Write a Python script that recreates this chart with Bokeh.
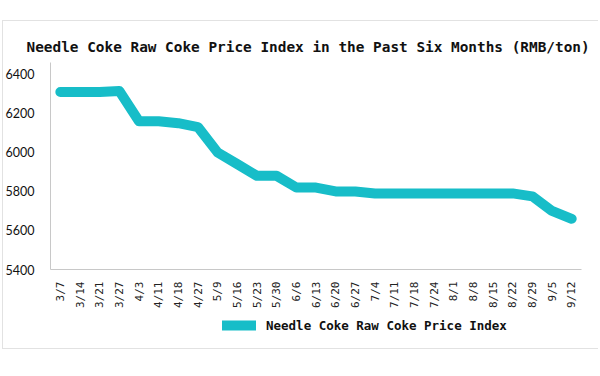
import math
from bokeh.plotting import figure
from bokeh.layouts import column
from bokeh.models import FixedTicker, Legend, LegendItem, Range1d
from bokeh.embed import file_html
from bokeh.resources import INLINE

dates = ["3/7", "3/14", "3/21", "3/27", "4/3", "4/11", "4/18", "4/27", "5/9",
         "5/16", "5/23", "5/30", "6/6", "6/13", "6/20", "6/27", "7/4", "7/11",
         "7/18", "7/24", "8/1", "8/8", "8/15", "8/22", "8/29", "9/5", "9/12"]
prices = [6310, 6310, 6310, 6315, 6160, 6160, 6150, 6130, 6000,
          5940, 5880, 5880, 5820, 5820, 5800, 5800, 5790, 5790,
          5790, 5790, 5790, 5790, 5790, 5790, 5775, 5700, 5660]
y_ticks = [5400, 5600, 5800, 6000, 6200, 6400]
series_name = "Needle Coke Raw Coke Price Index"
title_text = "Needle Coke Raw Coke Price Index in the Past Six Months (RMB/ton)"

LINE_COLOR = "#17BDC8"
xs = list(range(len(dates)))

p = figure(width=600, height=310, output_backend="svg", toolbar_location=None,
           x_range=Range1d(-0.5, len(dates) - 0.5), y_range=Range1d(5400, 6461),
           min_border_left=50, min_border_right=19, min_border_top=62,
           min_border_bottom=41, title=title_text)

p.title.text_font = "DejaVu Sans Mono"
p.title.text_font_size = "14.4px"
p.title.text_font_style = "bold"
p.title.text_color = "#111111"
p.title.align = "left"
p.title.offset = -24
p.title.standoff = 15

p.outline_line_color = None
p.grid.visible = False
p.background_fill_color = "white"
p.border_fill_alpha = 0

r = p.line(xs, prices, line_width=10, line_color=LINE_COLOR,
           line_cap="round", line_join="round")

p.yaxis.ticker = FixedTicker(ticks=y_ticks)
p.yaxis.major_tick_line_color = None
p.yaxis.minor_tick_line_color = None
p.yaxis.axis_line_color = "#C8C8C8"
p.yaxis.major_label_text_font = "Lato"
p.yaxis.major_label_text_font_size = "12.5px"
p.yaxis.major_label_text_color = "#111111"
p.yaxis.major_label_standoff = 10

p.xaxis.ticker = FixedTicker(ticks=xs)
p.xaxis.major_label_overrides = {i: d for i, d in enumerate(dates)}
p.xaxis.major_tick_line_color = None
p.xaxis.minor_tick_line_color = None
p.xaxis.axis_line_color = "#C8C8C8"
p.xaxis.major_label_orientation = math.pi / 2
p.xaxis.major_label_text_font = "DejaVu Sans Mono"
p.xaxis.major_label_text_font_size = "11px"
p.xaxis.major_label_text_color = "#222222"
p.xaxis.major_label_standoff = 6

# legend strip below the chart (its renderer lies outside the visible range)
pl = figure(width=600, height=66, output_backend="svg", toolbar_location=None,
            x_range=Range1d(0, 1), y_range=Range1d(0, 1),
            min_border_left=0, min_border_right=0, min_border_top=0,
            min_border_bottom=0)
pl.axis.visible = False
pl.grid.visible = False
pl.outline_line_color = None
pl.background_fill_alpha = 0
pl.border_fill_alpha = 0
lr = pl.line(x=[xs[0] + 10, xs[1] + 10], y=[prices[0], prices[1]],
             line_width=10, line_color=LINE_COLOR, line_cap="round")

legend = Legend(items=[LegendItem(label=series_name, renderers=[lr])],
                location=(172, 41), orientation="horizontal",
                border_line_color=None, background_fill_alpha=0,
                padding=0, margin=0, glyph_width=34, glyph_height=20,
                label_text_font="DejaVu Sans Mono", label_text_font_size="12.5px",
                label_text_font_style="bold", label_text_color="#111111",
                label_standoff=10)
pl.add_layout(legend, "center")

gray = "#E2E2E2"
layout = column(p, pl, spacing=0)
layout.styles = {
    "background": (
        f"linear-gradient({gray},{gray}) 2px 20px / 596px 1px no-repeat, "
        f"linear-gradient({gray},{gray}) 2px 348px / 596px 1px no-repeat, "
        f"linear-gradient({gray},{gray}) 2px 20px / 1px 329px no-repeat, white"
    )
}

open("out.html", "w").write(file_html(layout, INLINE))
